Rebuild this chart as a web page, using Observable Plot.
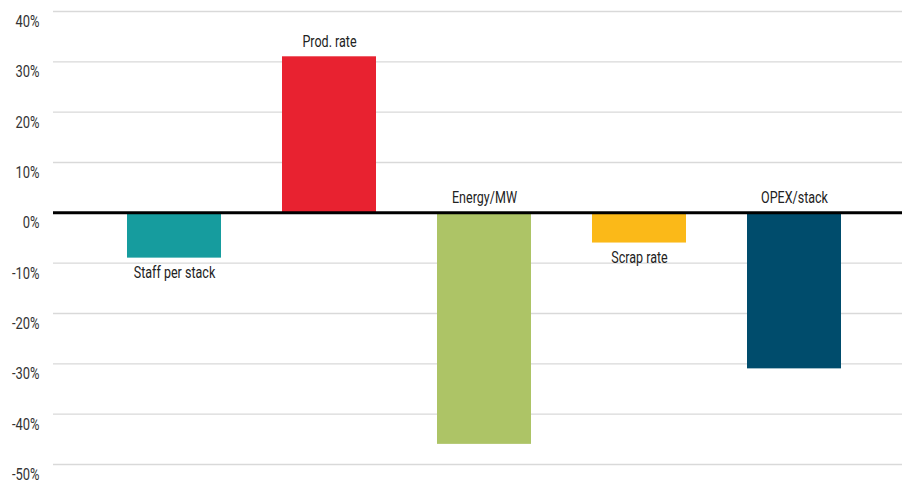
<!DOCTYPE html>
<html>
<head>
<meta charset="utf-8">
<script src="https://cdn.jsdelivr.net/npm/d3@7"></script>
<script src="https://cdn.jsdelivr.net/npm/@observablehq/plot@0.6"></script>
<style>
  html, body { margin: 0; padding: 0; background: #fff; }
  #chart svg { display: block; }
  #chart text { font-family: Roboto, "DejaVu Sans", sans-serif; }
</style>
</head>
<body>
<div id="chart"></div>
<script>
// Change per metric (fraction)
const metrics = ["Staff per stack", "Prod. rate", "Energy/MW", "Scrap rate", "OPEX/stack"];
const changes = [-0.09, 0.31, -0.46, -0.06, -0.31];
const colors = ["#169c9e", "#e82230", "#adc466", "#fbb918", "#004c6c"];
const yTicks = [-0.5, -0.4, -0.3, -0.2, -0.1, 0, 0.1, 0.2, 0.3, 0.4];

const rows = metrics.map((m, i) => ({metric: m, value: changes[i], color: colors[i]}));

// Labels: above positive bars, below short negative bars, above the baseline for long negative bars
const labelRows = rows.map(d => {
  if (d.value >= 0) return {...d, ly: d.value, anchor: "bottom"};
  if (d.value > -0.2) return {...d, ly: d.value, anchor: "top"};
  return {...d, ly: 0, anchor: "bottom"};
});

const pct = d => Math.round(d * 100) + "%";

const chart = Plot.plot({
  width: 902,
  height: 483,
  marginLeft: 53,
  marginRight: 0,
  marginTop: 11,
  marginBottom: 19,
  x: {domain: metrics, range: [96.5, 871.5], paddingInner: 0.394, paddingOuter: 0.197, axis: null},
  y: {domain: [-0.5, 0.4], ticks: yTicks, tickFormat: pct},
  marks: [
    Plot.gridY(yTicks, {stroke: "#d9d9d9", strokeOpacity: 1, strokeWidth: 1.3}),
    Plot.axisY(yTicks, {tickSize: 0, tickPadding: 14, dy: 10, fontSize: 17, fill: "#333", tickFormat: pct}),
    Plot.barY(rows, {x: "metric", y: "value", fill: "color"}),
    Plot.ruleY([0], {stroke: "#000", strokeWidth: 3}),
    Plot.text(labelRows.filter(d => d.anchor === "bottom"), {x: "metric", y: "ly", text: "metric",
      dy: -10, lineAnchor: "bottom", fontSize: 16.5, fill: "#222"}),
    Plot.text(labelRows.filter(d => d.anchor === "top"), {x: "metric", y: "ly", text: "metric",
      dy: 8, lineAnchor: "top", fontSize: 16.5, fill: "#222"})
  ]
});

// Condensed lettering: squeeze every label horizontally around its anchor point
d3.select(chart).selectAll("text").each(function() {
  const t = this.getAttribute("transform") || "";
  this.setAttribute("transform", (t + " scale(0.76,1)").trim());
});

document.getElementById("chart").appendChild(chart);
</script>
</body>
</html>
